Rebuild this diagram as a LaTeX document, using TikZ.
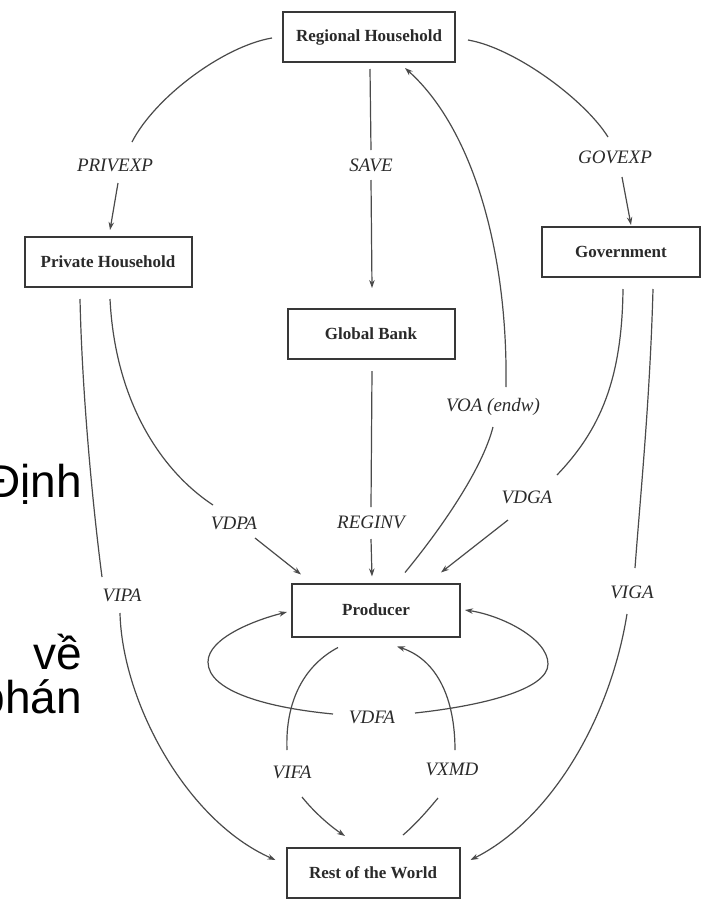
\documentclass[tikz,border=0pt]{standalone}
\usepackage{fontspec}
\setmainfont{Liberation Serif}
\newfontfamily\vietfont{Liberation Sans}
\usetikzlibrary{arrows.meta,calc}
\definecolor{linegray}{HTML}{4a4a4a}
\definecolor{boxgray}{HTML}{383838}
\definecolor{txtgray}{HTML}{2a2a2a}
\begin{document}
\begin{tikzpicture}[x=1pt,y=-1pt,
  box/.style={draw=boxgray, line width=2pt, text=txtgray,
    font=\bfseries\fontsize{17}{20}\selectfont, minimum height=50pt, inner sep=0pt},
  lbl/.style={text=txtgray, font=\itshape\fontsize{19}{21}\selectfont, inner sep=0pt},
  conn/.style={draw=linegray, line width=1.2pt},
  arr/.style={conn, -{Stealth[length=8pt,width=5.5pt]}},
  viet/.style={font=\vietfont\fontsize{46}{50}\selectfont, inner sep=0pt, anchor=base east, text=black}]
\useasboundingbox (0,0) rectangle (706,900);

% boxes
\node[box, minimum width=172pt] (RH) at (369,37) {Regional Household};
\node[box, minimum width=167pt] (PH) at (108,262) {Private Household};
\node[box, minimum width=158pt] (GOV) at (621,252) {Government};
\node[box, minimum width=167pt] (GB) at (371,334) {Global Bank};
\node[box, minimum width=168pt, minimum height=53pt] (PR) at (376,610) {Producer};
\node[box, minimum width=173pt] (RW) at (373,873) {Rest of the World};

% labels
\node[lbl] (lPRIV) at (115,165) {PRIVEXP};
\node[lbl] (lSAVE) at (371,165) {SAVE};
\node[lbl] (lGOV) at (615,157) {GOVEXP};
\node[lbl] (lVDPA) at (234,523) {VDPA};
\node[lbl] (lREG) at (371,522) {REGINV};
\node[lbl] (lVOA) at (493,407) {VOA (endw)};
\node[lbl] (lVDGA) at (527,497) {VDGA};
\node[lbl] (lVIPA) at (122,595) {VIPA};
\node[lbl] (lVIGA) at (632,592) {VIGA};
\node[lbl] (lVDFA) at (372,717) {VDFA};
\node[lbl] (lVIFA) at (292,772) {VIFA};
\node[lbl] (lVXMD) at (452,769) {VXMD};

% overlaid slide text
\node[viet] (tDinh) at (82,497) {Định};
\node[viet] (tVe) at (82,669) {về};
\node[viet] (tPhan) at (82,713) {phán};

% PRIVEXP
\draw[conn] ($(RH.west)+(-10,1)$) .. controls (224,46) and (155,97) .. ($(lPRIV.center)+(17,-23)$);
\draw[arr] ($(lPRIV.center)+(3,18)$) -- ($(PH.north)+(2,-6)$);
% GOVEXP
\draw[conn] ($(RH.east)+(12,3)$) .. controls (515,48) and (585,100) .. ($(lGOV.center)+(-7,-20)$);
\draw[arr] ($(lGOV.center)+(7,20)$) -- ($(GOV.north)+(10,-1)$);
% SAVE
\draw[conn] ($(RH.south)+(1,6)$) -- ($(lSAVE.center)+(0,-15)$);
\draw[arr] ($(lSAVE.center)+(0,15)$) -- ($(GB.north)+(1,-20)$);
% REGINV
\draw[conn] ($(GB.south)+(1,11)$) -- ($(lREG.center)+(0,-15)$);
\draw[arr] ($(lREG.center)+(0,17)$) -- ($(PR.north)+(-4,-6)$);
% VOA (endw)
\draw[conn] ($(PR.north)+(29,-10)$) .. controls (440,530) and (482,470) .. ($(lVOA.center)+(0,20)$);
\draw[arr] ($(lVOA.center)+(13,-20)$) .. controls (508,250) and (472,128) .. ($(RH.south)+(36,5)$);
% VDPA
\draw[conn] ($(PH.south)+(2,11)$) .. controls (115,400) and (160,470) .. ($(lVDPA.center)+(-21,-18)$);
\draw[arr] ($(lVDPA.center)+(21,15)$) -- ($(PR.north west)+(10,-8)$);
% VDGA
\draw[conn] ($(GOV.south)+(2,11)$) .. controls (622,380) and (600,430) .. ($(lVDGA.center)+(30,-22)$);
\draw[arr] ($(lVDGA.center)+(-19,23)$) -- ($(PR.north east)+(-20,-10)$);
% VIPA
\draw[conn] ($(PH.south)+(-28,11)$) .. controls (82,390) and (92,500) .. ($(lVIPA.center)+(-20,-18)$);
\draw[arr] ($(lVIPA.center)+(-2,18)$) .. controls (122,700) and (185,820) .. ($(RW.west)+(-10,-13)$);
% VIGA
\draw[conn] ($(GOV.south)+(32,11)$) .. controls (650,400) and (640,500) .. ($(lVIGA.center)+(3,-24)$);
\draw[arr] ($(lVIGA.center)+(-5,22)$) .. controls (610,720) and (550,820) .. ($(RW.east)+(10,-13)$);
% VDFA loops
\draw[arr] ($(lVDFA.center)+(-39,-3)$) .. controls (270,708) and (208,692) .. (208,662)
  .. controls (208,638) and (255,620) .. ($(PR.west)+(-4,2)$);
\draw[arr] ($(lVDFA.center)+(43,-4)$) .. controls (480,706) and (548,690) .. (548,664)
  .. controls (548,638) and (500,615) .. ($(PR.east)+(4,0)$);
% VIFA
\draw[conn] ($(PR.south)+(-38,10)$) .. controls (305,665) and (285,700) .. ($(lVIFA.center)+(-5,-22)$);
\draw[arr] ($(lVIFA.center)+(10,25)$) .. controls (314,812) and (330,826) .. ($(RW.north)+(-28,-11)$);
% VXMD
\draw[conn] ($(RW.north)+(30,-12)$) .. controls (416,824) and (428,810) .. ($(lVXMD.center)+(-14,29)$);
\draw[arr] ($(lVXMD.center)+(3,-19)$) .. controls (455,700) and (438,660) .. ($(PR.south)+(21,9)$);
\end{tikzpicture}
\end{document}
